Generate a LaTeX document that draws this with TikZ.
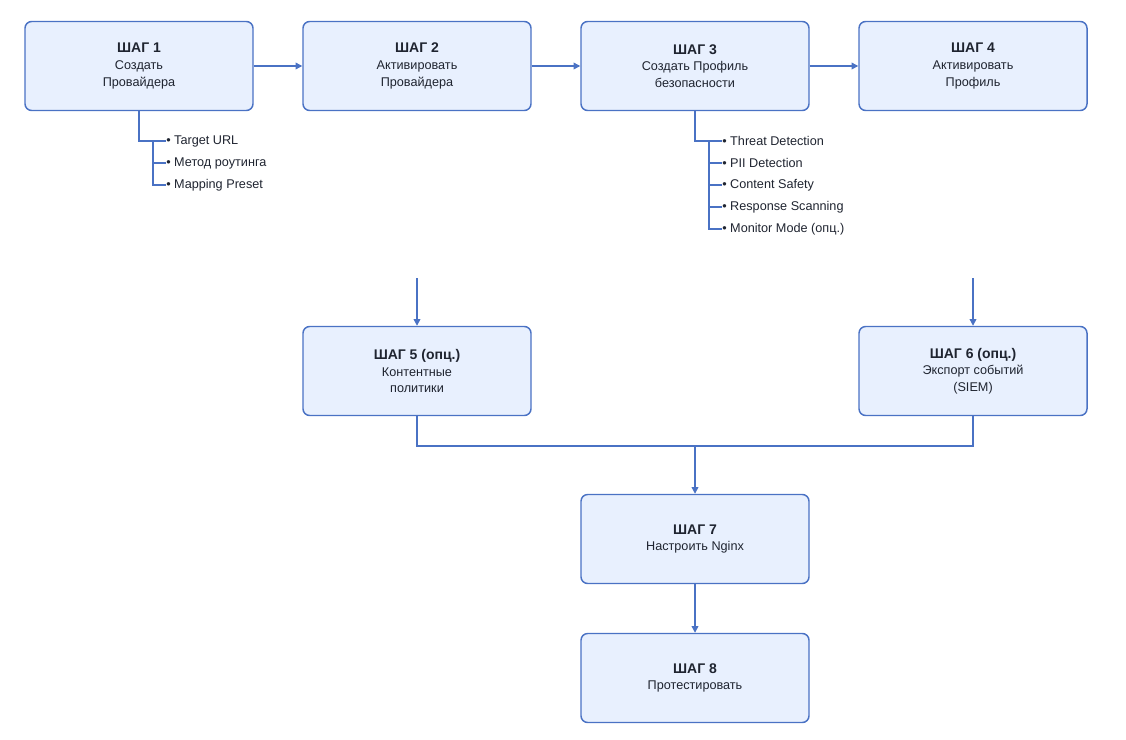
\documentclass[tikz,border=0pt]{standalone}
\usepackage{fontspec}
\setmainfont{Liberation Sans}
\usetikzlibrary{arrows.meta}
\definecolor{bfill}{HTML}{E8F0FE}
\definecolor{bline}{HTML}{4A72C4}
\definecolor{txt}{HTML}{1F2430}
\begin{document}
\begin{tikzpicture}[x=0.75pt,y=-0.75pt,
 box/.style={draw=bline,fill=bfill,line width=1.1pt,rounded corners=5pt,minimum width=171pt,minimum height=66.75pt,align=center,text=txt,font=\fontsize{9.5}{12.5}\selectfont,inner sep=0pt},
 con/.style={draw=bline,line width=1pt},
 arr/.style={con,-{Triangle[length=5pt,width=5pt]}},
 item/.style={anchor=west,text=txt,font=\fontsize{9.5}{11}\selectfont,inner sep=0pt}]
\useasboundingbox (0,0) rectangle (1126,739);
\newcommand{\ttl}[1]{{\bfseries\fontsize{10.5}{13}\selectfont #1}}
\node[box] (s1) at (139,66) {\ttl{ШАГ 1}\\Создать\\Провайдера};
\node[box] (s2) at (417,66) {\ttl{ШАГ 2}\\Активировать\\Провайдера};
\node[box] (s3) at (695,66) {\ttl{ШАГ 3}\\Создать Профиль\\безопасности};
\node[box] (s4) at (973,66) {\ttl{ШАГ 4}\\Активировать\\Профиль};
\node[box] (s5) at (417,371) {\ttl{ШАГ 5 (опц.)}\\Контентные\\политики};
\node[box] (s6) at (973,371) {\ttl{ШАГ 6 (опц.)}\\Экспорт событий\\(SIEM)};
\node[box] (s7) at (695,539) {\ttl{ШАГ 7}\\Настроить Nginx};
\node[box] (s8) at (695,678) {\ttl{ШАГ 8}\\Протестировать};
\draw[arr] (s1) -- (s2);
\draw[arr] (s2) -- (s3);
\draw[arr] (s3) -- (s4);
\draw[arr] (s7) -- (s8);
\coordinate (a5) at (417,278);
\coordinate (a6) at (973,278);
\draw[arr] (a5) -- (s5);
\draw[arr] (a6) -- (s6);
\coordinate (m) at (695,446);
\draw[con] (s5.south) |- (m);
\draw[con] (s6.south) |- (m);
\draw[arr] (m) -- (s7);
% step 1 items
\node[item] (i11) at (166,141) {• Target URL};
\node[item] (i12) at (166,163) {• Метод роутинга};
\node[item] (i13) at (166,185) {• Mapping Preset};
\coordinate (b1) at (153,141);
\draw[con] (139,111) |- (i11.west);
\draw[con] (b1) |- (i13.west);
\draw[con] (153,163) -- (i12.west);
% step 3 items
\node[item] (i31) at (722,141) {• Threat Detection};
\node[item] (i32) at (722,163) {• PII Detection};
\node[item] (i33) at (722,185) {• Content Safety};
\node[item] (i34) at (722,207) {• Response Scanning};
\node[item] (i35) at (722,229) {• Monitor Mode (опц.)};
\draw[con] (s3.south) |- (i31.west);
\draw[con] (709,141) |- (i35.west);
\draw[con] (709,163) -- (i32.west);
\draw[con] (709,185) -- (i33.west);
\draw[con] (709,207) -- (i34.west);
\end{tikzpicture}
\end{document}
